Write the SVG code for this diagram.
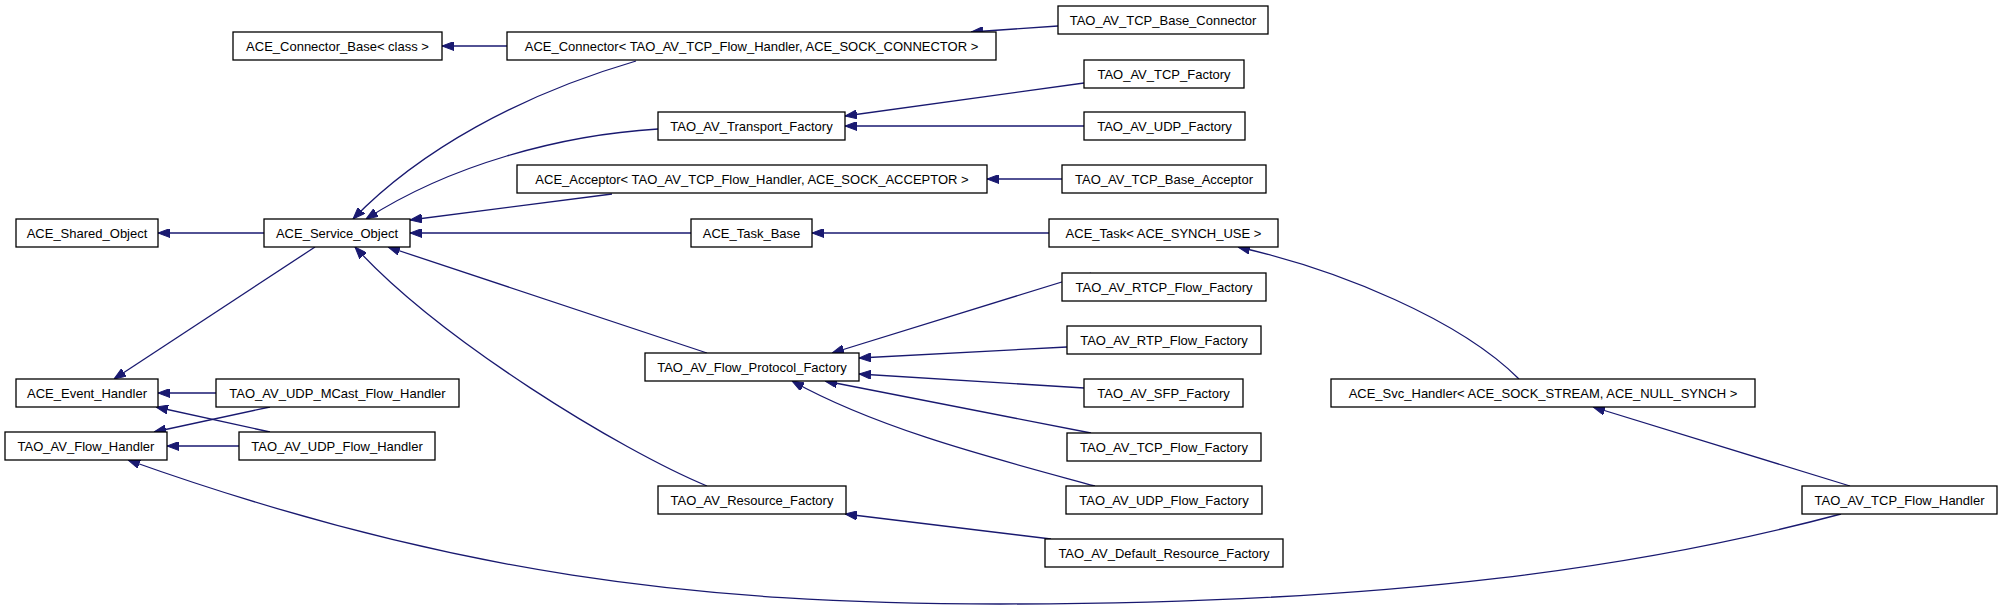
<svg xmlns="http://www.w3.org/2000/svg" width="2003" height="611" viewBox="0 0 2003 611">
<style>
.node rect{fill:#fff;stroke:#000;stroke-width:1.3}
.node text{font-family:"Liberation Sans",Arial,sans-serif;font-size:13px;text-anchor:middle;fill:#000}
.edge{fill:none;stroke:#191970;stroke-width:1.3;marker-end:url(#arr)}
</style>
<defs>
<marker id="arr" viewBox="0 0 12 9" refX="12" refY="4.5" markerWidth="12" markerHeight="9" markerUnits="userSpaceOnUse" orient="auto">
<path d="M0,0 L12,4.5 L0,9 z" fill="#191970" stroke="#191970" stroke-width="1"/>
</marker>
</defs>
<rect width="2003" height="611" fill="#fff"/>
<g id="connectors">
<path class="edge" d="M507,46 L442,46"/>
<path class="edge" d="M1058,26 L971,32"/>
<path class="edge" d="M1084,83 L845,116"/>
<path class="edge" d="M1084,126 L845,126"/>
<path class="edge" d="M1062,179 L987,179"/>
<path class="edge" d="M658,129 C560,135 450,165 366,219"/>
<path class="edge" d="M636,61 C520,95 420,150 353,219"/>
<path class="edge" d="M612,194 L410,220"/>
<path class="edge" d="M691,233 L410,233"/>
<path class="edge" d="M264,233 L158,233"/>
<path class="edge" d="M1049,233 L812,233"/>
<path class="edge" d="M1519,379 C1460,320 1340,270 1238,247"/>
<path class="edge" d="M707,353 L388,247"/>
<path class="edge" d="M707,486 C620,450 440,340 355,247"/>
<path class="edge" d="M1091,273 L832,353"/>
<path class="edge" d="M1067,347 L859,358"/>
<path class="edge" d="M1084,388 L859,374"/>
<path class="edge" d="M1091,433 L825,381"/>
<path class="edge" d="M1095,486 C1000,460 880,430 792,381"/>
<path class="edge" d="M1051,539 L845,514"/>
<path class="edge" d="M315,247 L114,379"/>
<path class="edge" d="M216,393 L158,393"/>
<path class="edge" d="M270,407 L154,432"/>
<path class="edge" d="M270,432 L156,407"/>
<path class="edge" d="M239,446 L167,446"/>
<path class="edge" d="M1850,486 L1593,407"/>
<path class="edge" d="M1841,514 C1650,565 1400,604 1000,604 C700,604 450,575 128,460"/>
</g>
<g id="n1" class="node"><rect x="233" y="32" width="209" height="28"/><text x="337.5" y="51">ACE_Connector_Base&lt; class &gt;</text></g>
<g id="n2" class="node"><rect x="507" y="32" width="489" height="28"/><text x="751.5" y="51">ACE_Connector&lt; TAO_AV_TCP_Flow_Handler, ACE_SOCK_CONNECTOR &gt;</text></g>
<g id="n3" class="node"><rect x="1058" y="6" width="210" height="28"/><text x="1163" y="25">TAO_AV_TCP_Base_Connector</text></g>
<g id="n4" class="node"><rect x="1084" y="60" width="160" height="28"/><text x="1164" y="79">TAO_AV_TCP_Factory</text></g>
<g id="n5" class="node"><rect x="658" y="112" width="187" height="28"/><text x="751.5" y="131">TAO_AV_Transport_Factory</text></g>
<g id="n6" class="node"><rect x="1084" y="112" width="161" height="28"/><text x="1164.5" y="131">TAO_AV_UDP_Factory</text></g>
<g id="n7" class="node"><rect x="517" y="165" width="470" height="28"/><text x="752" y="184">ACE_Acceptor&lt; TAO_AV_TCP_Flow_Handler, ACE_SOCK_ACCEPTOR &gt;</text></g>
<g id="n8" class="node"><rect x="1062" y="165" width="204" height="28"/><text x="1164" y="184">TAO_AV_TCP_Base_Acceptor</text></g>
<g id="n9" class="node"><rect x="16" y="219" width="142" height="28"/><text x="87" y="238">ACE_Shared_Object</text></g>
<g id="n10" class="node"><rect x="264" y="219" width="146" height="28"/><text x="337" y="238">ACE_Service_Object</text></g>
<g id="n11" class="node"><rect x="691" y="219" width="121" height="28"/><text x="751.5" y="238">ACE_Task_Base</text></g>
<g id="n12" class="node"><rect x="1049" y="219" width="229" height="28"/><text x="1163.5" y="238">ACE_Task&lt; ACE_SYNCH_USE &gt;</text></g>
<g id="n13" class="node"><rect x="1062" y="273" width="204" height="28"/><text x="1164" y="292">TAO_AV_RTCP_Flow_Factory</text></g>
<g id="n14" class="node"><rect x="1067" y="326" width="194" height="28"/><text x="1164" y="345">TAO_AV_RTP_Flow_Factory</text></g>
<g id="n15" class="node"><rect x="1084" y="379" width="159" height="28"/><text x="1163.5" y="398">TAO_AV_SFP_Factory</text></g>
<g id="n16" class="node"><rect x="645" y="353" width="214" height="28"/><text x="752" y="372">TAO_AV_Flow_Protocol_Factory</text></g>
<g id="n17" class="node"><rect x="1067" y="433" width="194" height="28"/><text x="1164" y="452">TAO_AV_TCP_Flow_Factory</text></g>
<g id="n18" class="node"><rect x="1066" y="486" width="196" height="28"/><text x="1164" y="505">TAO_AV_UDP_Flow_Factory</text></g>
<g id="n19" class="node"><rect x="658" y="486" width="188" height="28"/><text x="752" y="505">TAO_AV_Resource_Factory</text></g>
<g id="n20" class="node"><rect x="1045" y="539" width="238" height="28"/><text x="1164" y="558">TAO_AV_Default_Resource_Factory</text></g>
<g id="n21" class="node"><rect x="16" y="379" width="142" height="28"/><text x="87" y="398">ACE_Event_Handler</text></g>
<g id="n22" class="node"><rect x="216" y="379" width="243" height="28"/><text x="337.5" y="398">TAO_AV_UDP_MCast_Flow_Handler</text></g>
<g id="n23" class="node"><rect x="5" y="432" width="162" height="28"/><text x="86" y="451">TAO_AV_Flow_Handler</text></g>
<g id="n24" class="node"><rect x="239" y="432" width="196" height="28"/><text x="337" y="451">TAO_AV_UDP_Flow_Handler</text></g>
<g id="n25" class="node"><rect x="1331" y="379" width="424" height="28"/><text x="1543" y="398">ACE_Svc_Handler&lt; ACE_SOCK_STREAM, ACE_NULL_SYNCH &gt;</text></g>
<g id="n26" class="node"><rect x="1802" y="486" width="195" height="28"/><text x="1899.5" y="505">TAO_AV_TCP_Flow_Handler</text></g>
</svg>
